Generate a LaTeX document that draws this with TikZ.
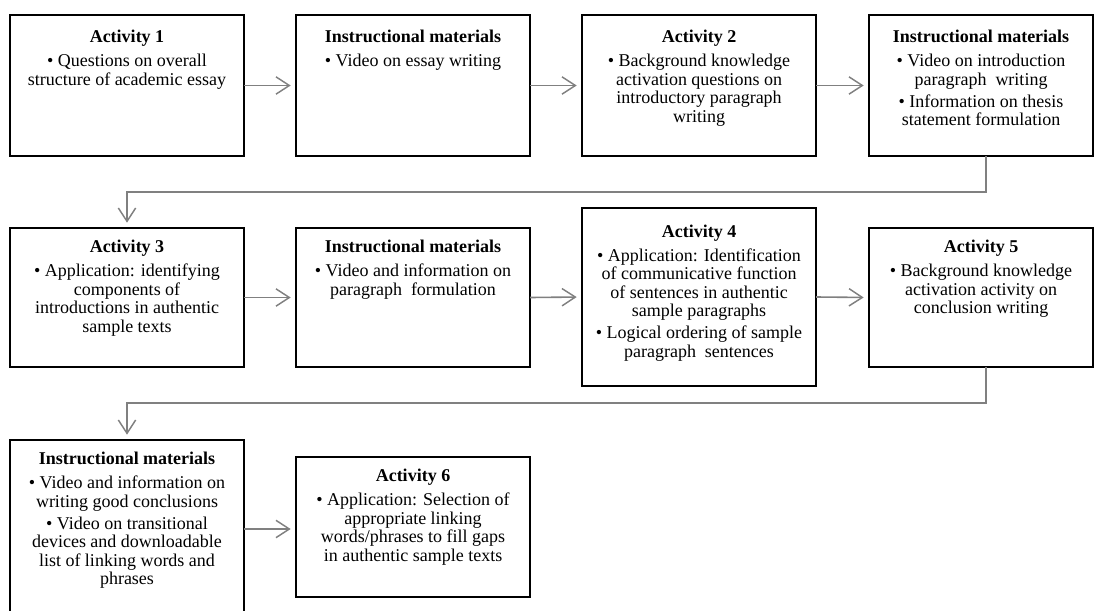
\documentclass[tikz,border=0pt]{standalone}
\usepackage{fontspec}
\setmainfont{Liberation Serif}
\usetikzlibrary{arrows.meta}
\newcommand\bxc[4][18.5pt]{\parbox[c][#3][t]{#2}{\centering\fontsize{13.5}{13.9}\selectfont\rule{0pt}{#1}#4}}
\tikzset{
  box/.style={draw=black, line width=1.7pt, inner sep=0pt, outer sep=0pt, anchor=north west, fill=white},
  conn/.style={draw=black!50, line width=1.2pt, -{Straight Barb[length=10pt,width=13pt,line width=1.1pt]}, shorten >=4pt}
}
\begin{document}
\begin{tikzpicture}[x=0.75pt,y=-0.75pt]
\useasboundingbox (0,0) rectangle (1094,610);
\clip (0,0) rectangle (1094,610);
% Row 1
\node[box] (b1) at (10,15) {\bxc[21pt]{175.5pt}{105.75pt}{\textbf{Activity 1}\\[4pt]• Questions on overall\\structure of academic essay}};
\node[box] (b2) at (296,15) {\bxc[21pt]{175.5pt}{105.75pt}{\textbf{Instructional materials}\\[4pt]• Video on essay writing}};
\node[box] (b3) at (582,15) {\bxc[21pt]{175.5pt}{105.75pt}{\textbf{Activity 2}\\[4pt]• Background knowledge\\activation questions on\\introductory paragraph\\writing}};
\node[box] (b4) at (869,15) {\bxc[21pt]{168pt}{105.75pt}{\textbf{Instructional materials}\\[4pt]• Video on introduction\\paragraph\ \ writing\\[2.6pt]• Information on thesis\\statement formulation}};
% Row 2
\node[box] (a3) at (10,228) {\bxc{175.5pt}{104.25pt}{\textbf{Activity 3}\\[4pt]• Application: identifying\\components of\\introductions in authentic\\sample texts}};
\node[box] (im2) at (296,228) {\bxc{175.5pt}{104.25pt}{\textbf{Instructional materials}\\[4pt]• Video and information on\\paragraph\ \ formulation}};
\node[box] (a4) at (582,208) {\bxc[22pt]{175.5pt}{133.5pt}{\textbf{Activity 4}\\[4pt]• Application: Identification\\of communicative function\\of sentences in authentic\\sample paragraphs\\[2.6pt]• Logical ordering of sample\\paragraph\ \ sentences}};
\node[box] (a5) at (869,228) {\bxc{168pt}{104.25pt}{\textbf{Activity 5}\\[4pt]• Background knowledge\\activation activity on\\conclusion writing}};
% Row 3
\node[box] (im3) at (10,440) {\bxc{175.5pt}{133.5pt}{\textbf{Instructional materials}\\[4pt]• Video and information on\\writing good conclusions\\[2.6pt]• Video on transitional\\devices and downloadable\\list of linking words and\\phrases}};
\node[box] (a6) at (296,457) {\bxc{175.5pt}{105pt}{\textbf{Activity 6}\\[4pt]• Application: Selection of\\appropriate linking\\words/phrases to fill gaps\\in authentic sample texts}};
% connectors
\coordinate (k1) at (986,192);
\coordinate (k2) at (986,403);
\draw[conn] (b1.east) -- (b2.west);
\draw[conn] (b2.east) -- (b3.west);
\draw[conn] (b3.east) -- (b4.west);
\draw[conn] (b4.south -| k1) -- (k1) -| (a3.north);
\draw[conn] (a3.east) -- (im2.west);
\draw[conn] (im2.east) -- (a4.west);
\draw[conn] (a4.east) -- (a5.west);
\draw[conn] (a5.south -| k2) -- (k2) -| (im3.north);
\draw[conn] (im3.east) -- (im3.east -| a6.west);
\end{tikzpicture}
\end{document}
